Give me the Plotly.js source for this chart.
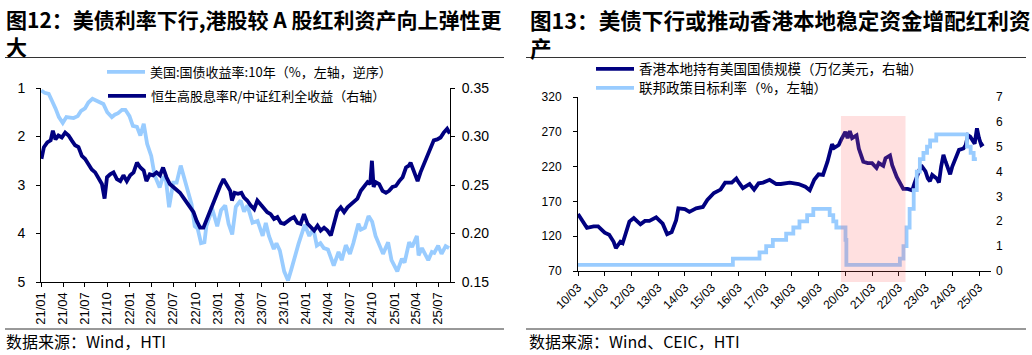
<!DOCTYPE html>
<html>
<head>
<meta charset="utf-8">
<script src="https://cdn.plot.ly/plotly-3.0.1.min.js"></script>
<style>
html,body{margin:0;padding:0;background:#fff;overflow:hidden;}
#c1{position:absolute;left:0;top:0;width:516px;height:355px;}
#c2{position:absolute;left:516px;top:0;width:516px;height:355px;}
</style>
</head>
<body>
<div id="c1"></div>
<div id="c2"></div>
<script>
// ---------------- Chart 12 data ----------------
const usDates = ['2021-01-01','2021-01-15','2021-02-01','2021-02-15','2021-03-01','2021-03-15','2021-03-31','2021-04-15','2021-05-01','2021-05-15','2021-06-01','2021-06-15','2021-07-01','2021-07-15','2021-08-01','2021-08-15','2021-09-01','2021-09-15','2021-10-01','2021-10-20','2021-11-01','2021-11-15','2021-12-01','2021-12-15','2022-01-01','2022-01-15','2022-02-01','2022-02-15','2022-03-01','2022-03-15','2022-04-01','2022-04-15','2022-05-06','2022-05-20','2022-06-01','2022-06-14','2022-07-01','2022-07-15','2022-08-01','2022-08-15','2022-09-01','2022-09-15','2022-09-28','2022-10-10','2022-10-24','2022-11-07','2022-11-15','2022-12-01','2022-12-07','2022-12-30','2023-01-15','2023-02-01','2023-02-15','2023-03-02','2023-03-17','2023-04-06','2023-04-20','2023-05-04','2023-05-25','2023-06-15','2023-07-06','2023-07-19','2023-08-01','2023-08-21','2023-09-01','2023-09-15','2023-10-03','2023-10-19','2023-11-01','2023-11-15','2023-12-01','2023-12-27','2024-01-15','2024-02-01','2024-02-15','2024-03-01','2024-03-15','2024-04-01','2024-04-25','2024-05-15','2024-05-28','2024-06-14','2024-07-01','2024-07-15','2024-08-05','2024-08-15','2024-09-01','2024-09-16','2024-10-01','2024-10-15','2024-11-01','2024-11-15','2024-12-06','2024-12-20','2025-01-13','2025-02-01','2025-02-12','2025-03-03','2025-03-15','2025-04-04','2025-04-11','2025-04-25','2025-05-21','2025-06-05','2025-06-15','2025-07-01','2025-07-15','2025-08-01','2025-08-15'];
const usYield10y = [1.05,1.10,1.12,1.25,1.42,1.60,1.72,1.60,1.62,1.62,1.58,1.47,1.42,1.30,1.22,1.26,1.30,1.33,1.50,1.60,1.55,1.52,1.45,1.45,1.58,1.78,1.80,1.98,1.74,2.15,2.40,2.80,3.05,2.82,2.90,3.46,2.95,2.95,2.60,2.85,3.15,3.40,3.85,3.90,4.20,4.18,3.85,3.62,3.45,3.85,3.52,3.42,3.80,4.02,3.45,3.32,3.55,3.42,3.78,3.74,4.05,3.78,4.05,4.32,4.20,4.35,4.78,4.97,4.75,4.48,4.22,3.82,4.05,3.90,4.25,4.20,4.30,4.33,4.66,4.38,4.55,4.24,4.42,4.20,3.80,3.92,3.88,3.64,3.76,4.05,4.28,4.42,4.18,4.55,4.78,4.52,4.60,4.18,4.28,4.05,4.45,4.30,4.55,4.38,4.40,4.25,4.42,4.26,4.30];

const divDates = ['2021-01-02','2021-01-12','2021-01-26','2021-02-09','2021-02-18','2021-03-01','2021-03-13','2021-03-27','2021-04-10','2021-04-24','2021-05-07','2021-05-21','2021-06-04','2021-06-18','2021-07-01','2021-07-15','2021-07-29','2021-08-12','2021-08-26','2021-09-09','2021-09-20','2021-09-30','2021-10-13','2021-10-27','2021-11-10','2021-11-24','2021-12-07','2021-12-21','2022-01-04','2022-01-18','2022-02-01','2022-02-15','2022-03-01','2022-03-12','2022-03-26','2022-04-09','2022-04-23','2022-05-07','2022-05-20','2022-06-03','2022-06-17','2022-07-01','2022-07-15','2022-07-29','2022-08-12','2022-08-26','2022-09-09','2022-09-23','2022-10-06','2022-10-20','2022-11-03','2022-11-17','2022-12-01','2022-12-14','2022-12-28','2023-01-11','2023-01-25','2023-02-08','2023-02-22','2023-03-01','2023-03-12','2023-03-26','2023-04-09','2023-04-20','2023-05-03','2023-05-17','2023-06-01','2023-06-14','2023-06-28','2023-07-11','2023-07-25','2023-08-08','2023-08-22','2023-09-05','2023-09-19','2023-10-03','2023-10-16','2023-10-30','2023-11-13','2023-11-27','2023-12-10','2023-12-24','2024-01-08','2024-01-21','2024-02-04','2024-02-18','2024-03-02','2024-03-16','2024-03-30','2024-04-13','2024-04-27','2024-05-10','2024-05-24','2024-06-07','2024-06-21','2024-07-04','2024-07-18','2024-08-01','2024-08-15','2024-08-29','2024-09-12','2024-09-23','2024-09-30','2024-10-07','2024-10-16','2024-10-30','2024-11-13','2024-11-27','2024-12-10','2024-12-24','2025-01-07','2025-01-21','2025-02-04','2025-02-18','2025-03-02','2025-03-09','2025-03-22','2025-04-07','2025-04-19','2025-05-03','2025-05-16','2025-05-30','2025-06-13','2025-06-27','2025-07-11','2025-07-24','2025-08-07','2025-08-18'];
const divRatio = [0.277,0.289,0.294,0.296,0.306,0.297,0.301,0.299,0.304,0.301,0.296,0.291,0.289,0.280,0.277,0.272,0.266,0.263,0.256,0.251,0.236,0.258,0.261,0.263,0.256,0.254,0.260,0.254,0.260,0.263,0.273,0.268,0.265,0.254,0.261,0.260,0.263,0.260,0.268,0.258,0.251,0.248,0.246,0.242,0.237,0.232,0.227,0.222,0.213,0.206,0.206,0.215,0.222,0.230,0.241,0.249,0.256,0.249,0.244,0.234,0.242,0.241,0.242,0.237,0.234,0.229,0.225,0.234,0.230,0.225,0.222,0.220,0.215,0.217,0.211,0.210,0.213,0.215,0.217,0.211,0.210,0.220,0.210,0.206,0.203,0.208,0.203,0.206,0.203,0.198,0.213,0.223,0.227,0.222,0.227,0.230,0.234,0.236,0.244,0.248,0.253,0.251,0.275,0.248,0.253,0.251,0.244,0.242,0.244,0.248,0.249,0.254,0.258,0.268,0.270,0.273,0.265,0.254,0.263,0.272,0.279,0.287,0.296,0.297,0.299,0.304,0.308,0.303];

const leftTickVals = ['2021-01-01','2021-04-01','2021-07-01','2021-10-01','2022-01-01','2022-04-01','2022-07-01','2022-10-01','2023-01-01','2023-04-01','2023-07-01','2023-10-01','2024-01-01','2024-04-01','2024-07-01','2024-10-01','2025-01-01','2025-04-01','2025-07-01'];
const leftTickText = ['21/01','21/04','21/07','21/10','22/01','22/04','22/07','22/10','23/01','23/04','23/07','23/10','24/01','24/04','24/07','24/10','25/01','25/04','25/07'];
const leftYTicks = [1,2,3,4,5];
const rightYTicks = [0.15,0.20,0.25,0.30,0.35];

// ---------------- Chart 13 data ----------------
const hkDates = ['2010-03','2010-05','2010-07','2010-10','2010-12','2011-03','2011-05','2011-07','2011-08','2011-10','2011-11','2011-12','2012-02','2012-04','2012-07','2012-09','2012-11','2013-02','2013-05','2013-07','2013-09','2013-11','2013-12','2014-03','2014-05','2014-08','2014-11','2015-01','2015-04','2015-07','2015-09','2015-12','2016-02','2016-03','2016-05','2016-08','2016-10','2016-12','2017-02','2017-05','2017-08','2017-10','2018-02','2018-06','2018-09','2018-11','2019-01','2019-03','2019-05','2019-07','2019-09','2019-10','2019-12','2020-01','2020-03','2020-04','2020-05','2020-06','2020-08','2020-09','2020-11','2021-01','2021-03','2021-05','2021-06','2021-08','2021-09','2021-11','2021-12','2022-02','2022-05','2022-07','2022-09','2022-10','2022-12','2023-01','2023-03','2023-04','2023-05','2023-06','2023-08','2023-09','2023-10','2023-11','2023-12','2024-02','2024-03','2024-04','2024-06','2024-08','2024-09','2024-10','2024-11','2025-01','2025-02','2025-03','2025-04','2025-05','2025-06'];
const hkUST = [152,143,132,134,134,125,122,112,103,112,110,120,141,146,137,142,142,147,138,123,126,143,160,159,155,160,162,172,182,187,197,197,203,198,189,195,187,196,197,201,195,195,197,195,191,186,201,209,208,227,252,247,251,258,270,261,271,261,265,246,227,225,225,218,225,221,232,236,222,205,188,188,186,196,215,222,213,203,199,208,203,197,220,237,227,209,220,229,244,246,251,265,263,253,275,261,251,253];

const fedDates = ['2010-03-01','2015-12-16','2016-12-14','2017-03-15','2017-06-14','2017-12-13','2018-03-21','2018-06-13','2018-09-26','2018-12-19','2019-07-31','2019-09-18','2019-10-30','2020-03-03','2020-03-15','2022-03-16','2022-05-04','2022-06-15','2022-07-27','2022-09-21','2022-11-02','2022-12-14','2023-02-01','2023-03-22','2023-05-03','2023-07-26','2024-09-18','2024-11-07','2024-12-18','2025-01-31'];
const fedRate = [0.25,0.50,0.75,1.00,1.25,1.50,1.75,2.00,2.25,2.50,2.25,2.00,1.75,1.25,0.25,0.50,1.00,1.75,2.50,3.25,4.00,4.50,4.75,5.00,5.25,5.50,5.00,4.75,4.50,4.50];

const shadeStart = ['2020-01-01'];
const shadeEnd = ['2022-06-01'];

const bottomTickVals = ['2010-03-01','2011-03-01','2012-03-01','2013-03-01','2014-03-01','2015-03-01','2016-03-01','2017-03-01','2018-03-01','2019-03-01','2020-03-01','2021-03-01','2022-03-01','2023-03-01','2024-03-01','2025-03-01'];
const bottomTickText = ['10/03','11/03','12/03','13/03','14/03','15/03','16/03','17/03','18/03','19/03','20/03','21/03','22/03','23/03','24/03','25/03'];
const leftAxisTicks13 = [70,120,170,220,270,320];
const rightAxisTicks13 = [0,1,2,3,4,5,6,7];

// ---------------- styling ----------------
const NAVY = '#000080';
const LIGHT = '#99ccff';
const CJK = '"Noto Sans CJK SC", "Noto Sans", sans-serif';
const LAT = '"Liberation Sans", Arial, sans-serif';
const W = 516, H = 355;

function px2x(X, m) { return (X - m.l) / (W - m.l - m.r); }
function px2y(Y, m) { return (H - m.b - Y) / (H - m.t - m.b); }

// ---------------- Chart 12 ----------------
const m1 = {l:41, r:66, t:88, b:73, autoexpand:false};
const traces1 = [
  {x: usDates, y: usYield10y, type:'scatter', mode:'lines', name:'美国:国债收益率:10年（%，左轴，逆序）',
   line:{color:LIGHT, width:3.8}, yaxis:'y', legend:'legend'},
  {x: divDates, y: divRatio, type:'scatter', mode:'lines', name:'恒生高股息率R/中证红利全收益（右轴）',
   line:{color:NAVY, width:3.8}, yaxis:'y2', legend:'legend2'}
];
const layout1 = {
  width:W, height:H, margin:m1, paper_bgcolor:'#fff', plot_bgcolor:'rgba(0,0,0,0)',
  showlegend:true,
  xaxis:{type:'date', range:['2020-12-31','2025-08-19'], tickvals:leftTickVals, ticktext:leftTickText,
    tickangle:-90, ticks:'outside', ticklen:4, tickcolor:'#000', showline:true, linecolor:'#000', linewidth:1,
    showgrid:false, zeroline:false, tickfont:{family:LAT, size:13, color:'#000'}},
  yaxis:{range:[5,1], tickvals:leftYTicks, ticks:'outside', ticklen:4, tickcolor:'#000', showline:true,
    linecolor:'#000', linewidth:1, showgrid:false, zeroline:false, ticklabelstandoff:8,
    tickfont:{family:LAT, size:14, color:'#000'}},
  yaxis2:{range:[0.15,0.35], overlaying:'y', side:'right', tickvals:rightYTicks, tickformat:'.2f', ticks:'outside',
    ticklen:4, tickcolor:'#000', showline:true, linecolor:'#000', linewidth:1, showgrid:false, zeroline:false,
    ticklabelstandoff:4, tickfont:{family:LAT, size:14, color:'#000'}},
  legend:{xref:'container', yref:'container', x:102/W, y:1-72/H, xanchor:'left', yanchor:'middle',
    bgcolor:'rgba(0,0,0,0)', borderwidth:0, itemwidth:38, font:{family:CJK, size:13, color:'#000'}},
  legend2:{xref:'container', yref:'container', x:103/W, y:1-96/H, xanchor:'left', yanchor:'middle',
    bgcolor:'rgba(0,0,0,0)', borderwidth:0, itemwidth:38, font:{family:CJK, size:13, color:'#000'}},
  shapes:[
    {type:'line', xref:'paper', yref:'paper', x0:px2x(5,m1), x1:px2x(504,m1), y0:px2y(57.5,m1), y1:px2y(57.5,m1), line:{color:'#333', width:1}},
    {type:'line', xref:'paper', yref:'paper', x0:px2x(5,m1), x1:px2x(504,m1), y0:px2y(329,m1), y1:px2y(329,m1), line:{color:'#333', width:1}}
  ],
  annotations:[
    {xref:'paper', yref:'paper', x:px2x(4,m1), y:px2y(2,m1), xanchor:'left', yanchor:'top', align:'left', showarrow:false,
     text:'<b>图12：美债利率下行,港股较 A 股红利资产向上弹性更</b><br><b>大</b>', font:{family:CJK, size:21, color:'#000'}},
    {xref:'paper', yref:'paper', x:px2x(4,m1), y:px2y(341,m1), xanchor:'left', yanchor:'middle', align:'left', showarrow:false,
     text:'数据来源：Wind，HTI', font:{family:CJK, size:16, color:'#000'}}
  ]
};
Plotly.newPlot('c1', traces1, layout1, {displayModeBar:false, staticPlot:true});

// ---------------- Chart 13 ----------------
const m2 = {l:62, r:41, t:97, b:84, autoexpand:false};
const traces2 = [
  {x: hkDates, y: hkUST, type:'scatter', mode:'lines', name:'香港本地持有美国国债规模（万亿美元，右轴）',
   line:{color:NAVY, width:3.8}, yaxis:'y', legend:'legend'},
  {x: fedDates, y: fedRate, type:'scatter', mode:'lines', name:'联邦政策目标利率（%，左轴）',
   line:{color:LIGHT, width:3.8, shape:'hv'}, yaxis:'y2', legend:'legend2'}
];
const layout2 = {
  width:W, height:H, margin:m2, paper_bgcolor:'#fff', plot_bgcolor:'rgba(0,0,0,0)',
  showlegend:true,
  xaxis:{type:'date', range:['2010-03-01','2025-08-12'], tickvals:bottomTickVals, ticktext:bottomTickText,
    tickangle:-45, ticks:'outside', ticklen:4, tickcolor:'#000', showline:true, linecolor:'#000', linewidth:1,
    showgrid:false, zeroline:false, tickfont:{family:LAT, size:12, color:'#000'}},
  yaxis:{range:[70,320], tickvals:leftAxisTicks13, ticks:'outside', ticklen:4, tickcolor:'#000', showline:true,
    linecolor:'#000', linewidth:1, showgrid:false, zeroline:false, ticklabelstandoff:9,
    tickfont:{family:LAT, size:12, color:'#000'}},
  yaxis2:{range:[0,7], overlaying:'y', side:'right', tickvals:rightAxisTicks13, ticks:'', showline:false,
    showgrid:false, zeroline:false, ticklabelstandoff:4, tickfont:{family:LAT, size:12, color:'#000'}},
  legend:{xref:'container', yref:'container', x:75/W, y:1-69/H, xanchor:'left', yanchor:'middle',
    bgcolor:'rgba(0,0,0,0)', borderwidth:0, itemwidth:38, font:{family:CJK, size:13.5, color:'#000'}},
  legend2:{xref:'container', yref:'container', x:75/W, y:1-88/H, xanchor:'left', yanchor:'middle',
    bgcolor:'rgba(0,0,0,0)', borderwidth:0, itemwidth:38, font:{family:CJK, size:13.5, color:'#000'}},
  shapes:[
    {type:'rect', xref:'x', yref:'paper', x0:shadeStart[0], x1:shadeEnd[0], y0:px2y(282,m2), y1:px2y(116,m2),
     fillcolor:'rgba(255,100,100,0.2)', line:{width:0}, layer:'above'},
    {type:'line', xref:'paper', yref:'paper', x0:px2x(10,m2), x1:px2x(510,m2), y0:px2y(57.5,m2), y1:px2y(57.5,m2), line:{color:'#333', width:1}},
    {type:'line', xref:'paper', yref:'paper', x0:px2x(10,m2), x1:px2x(510,m2), y0:px2y(329,m2), y1:px2y(329,m2), line:{color:'#333', width:1}}
  ],
  annotations:[
    {xref:'paper', yref:'paper', x:px2x(12,m2), y:px2y(2,m2), xanchor:'left', yanchor:'top', align:'left', showarrow:false,
     text:'<b>图13：美债下行或推动香港本地稳定资金增配红利资</b><br><b>产</b>', font:{family:CJK, size:21.6, color:'#000'}},
    {xref:'paper', yref:'paper', x:px2x(11,m2), y:px2y(341,m2), xanchor:'left', yanchor:'middle', align:'left', showarrow:false,
     text:'数据来源：Wind、CEIC，HTI', font:{family:CJK, size:16, color:'#000'}}
  ]
};
Plotly.newPlot('c2', traces2, layout2, {displayModeBar:false, staticPlot:true});
</script>
</body>
</html>
